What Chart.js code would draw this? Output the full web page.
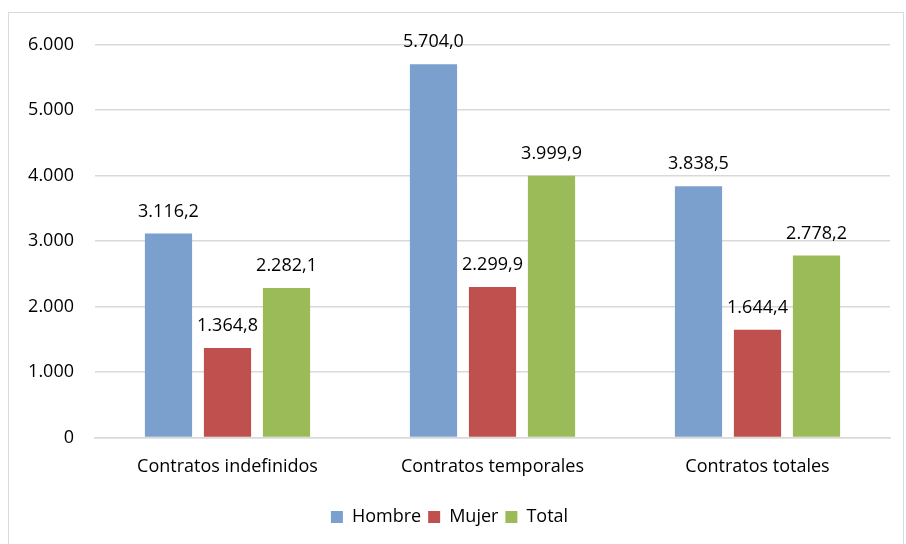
<!DOCTYPE html>
<html>
<head>
<meta charset="utf-8">
<script src="https://cdn.jsdelivr.net/npm/chart.js@4"></script>
<style>
  body { margin: 0; background: #fff; }
  #frame {
    position: absolute; left: 8px; top: 12px;
    width: 896px; height: 540px;
    border: 1px solid #d9d9d9; box-sizing: border-box;
  }
</style>
</head>
<body>
<div id="frame"><canvas id="barChart"></canvas></div>
<script>
var categories = ['Contratos indefinidos', 'Contratos temporales', 'Contratos totales'];
var hombre = [3116.2, 5704.0, 3838.5];
var mujer = [1364.8, 2299.9, 1644.4];
var total = [2282.1, 3999.9, 2778.2];

// formato español: punto para miles, coma para decimales
function fmtEs(v, dec) {
    var parts = v.toFixed(dec).split('.');
    var ent = parts[0].replace(/\B(?=(\d{3})+(?!\d))/g, '.');
    return parts.length > 1 ? ent + ',' + parts[1] : ent;
}

var valueLabels = {
    id: 'valueLabels',
    afterDatasetsDraw: function(chart) {
        var ctx = chart.ctx;
        ctx.save();
        ctx.font = '18px "Open Sans"';
        ctx.fillStyle = '#000';
        ctx.textAlign = 'center';
        ctx.textBaseline = 'middle';
        chart.data.datasets.forEach(function(ds, i) {
            chart.getDatasetMeta(i).data.forEach(function(bar, j) {
                ctx.fillText(fmtEs(ds.data[j], 1), bar.x, bar.y - 22);
            });
        });
        ctx.restore();
    }
};

var ctx = document.getElementById('barChart').getContext('2d');
var chart = new Chart(ctx, {
    type: 'bar',
    data: {
        labels: categories,
        datasets: [
            { label: 'Hombre', data: hombre, backgroundColor: '#7ba0cd' },
            { label: 'Mujer', data: mujer, backgroundColor: '#c0504d' },
            { label: 'Total', data: total, backgroundColor: '#9bbb59' }
        ]
    },
    options: {
        responsive: true,
        maintainAspectRatio: false,
        animation: false,
        categoryPercentage: 0.668,
        barPercentage: 0.8,
        layout: {
            padding: { left: 0, right: 13, top: 25, bottom: 15 }
        },
        plugins: {
            legend: {
                position: 'bottom',
                labels: {
                    font: { family: 'Open Sans', size: 18 },
                    color: '#000',
                    boxWidth: 12,
                    boxHeight: 12,
                    padding: 7
                }
            },
            tooltip: { enabled: false }
        },
        scales: {
            x: {
                grid: { display: false },
                border: { color: '#d9d9d9', width: 1.5 },
                ticks: { color: '#000', font: { family: 'Open Sans', size: 18 }, padding: 11 },
                afterFit: function(scale) { scale.height += 12; }
            },
            y: {
                min: 0,
                max: 6000,
                ticks: {
                    stepSize: 1000,
                    color: '#000',
                    font: { family: 'Open Sans', size: 18 },
                    padding: 21,
                    callback: function(v) { return fmtEs(v, 0); }
                },
                grid: { color: '#d9d9d9', lineWidth: 1.5, drawTicks: false },
                border: { display: false },
                afterFit: function(scale) { scale.width = 86; }
            }
        }
    },
    plugins: [valueLabels]
});
</script>
</body>
</html>
